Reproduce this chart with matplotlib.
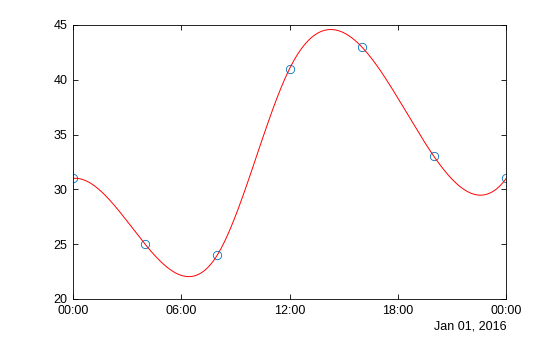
import numpy as np
import matplotlib
matplotlib.use('Agg')
import matplotlib.pyplot as plt

# Datos: horas del dia y valores medidos
horas = [0, 4, 8, 12, 16, 20, 24]
valores = [31, 25, 24, 41, 43, 33, 31]
xticks = [0, 6, 12, 18, 24]
xtick_labels = ['00:00', '06:00', '12:00', '18:00', '00:00']
yticks = [20, 25, 30, 35, 40, 45]
fecha = 'Jan 01, 2016'


def spline_not_a_knot(x, y, xq):
    # spline cubico con condicion not-a-knot (como spline de MATLAB)
    x = np.asarray(x, float)
    y = np.asarray(y, float)
    n = len(x)
    h = np.diff(x)
    A = np.zeros((n, n))
    b = np.zeros(n)
    for i in range(1, n - 1):
        A[i, i - 1] = h[i - 1]
        A[i, i] = 2 * (h[i - 1] + h[i])
        A[i, i + 1] = h[i]
        b[i] = 6 * ((y[i + 1] - y[i]) / h[i] - (y[i] - y[i - 1]) / h[i - 1])
    A[0, 0] = h[1]
    A[0, 1] = -(h[0] + h[1])
    A[0, 2] = h[0]
    A[-1, -3] = h[-1]
    A[-1, -2] = -(h[-2] + h[-1])
    A[-1, -1] = h[-2]
    M = np.linalg.solve(A, b)
    idx = np.clip(np.searchsorted(x, xq) - 1, 0, n - 2)
    x0, x1 = x[idx], x[idx + 1]
    hh = x1 - x0
    t0 = x1 - xq
    t1 = xq - x0
    return (M[idx] * t0**3 / (6 * hh) + M[idx + 1] * t1**3 / (6 * hh)
            + (y[idx] / hh - M[idx] * hh / 6) * t0
            + (y[idx + 1] / hh - M[idx + 1] * hh / 6) * t1)


xq = np.linspace(horas[0], horas[-1], 600)
yq = spline_not_a_knot(horas, valores, xq)

plt.rcParams['font.family'] = ['Liberation Sans', 'DejaVu Sans']
fig = plt.figure(figsize=(5.6, 3.37), dpi=100)
ax = fig.add_axes([0.130, 0.113, 0.774, 0.813])

ax.plot(horas, valores, 'o', mfc='none', mec=(0, 0.447, 0.741), ms=6, mew=0.6)
ax.plot(xq, yq, '-', color='red', lw=0.7)

ax.set_xlim(0, 24)
ax.set_ylim(20, 45)
ax.set_xticks(xticks)
ax.set_xticklabels(xtick_labels)
ax.set_yticks(yticks)
ax.tick_params(direction='in', top=True, right=True, labelsize=9, length=3.5,
               width=0.6, pad=4.5)
ax.tick_params(axis='y', pad=4)
for s in ax.spines.values():
    s.set_linewidth(0.6)
ax.text(1.0, -0.1, fecha, transform=ax.transAxes, ha='right', va='center', fontsize=9)

fig.savefig('out.png', dpi=100)
